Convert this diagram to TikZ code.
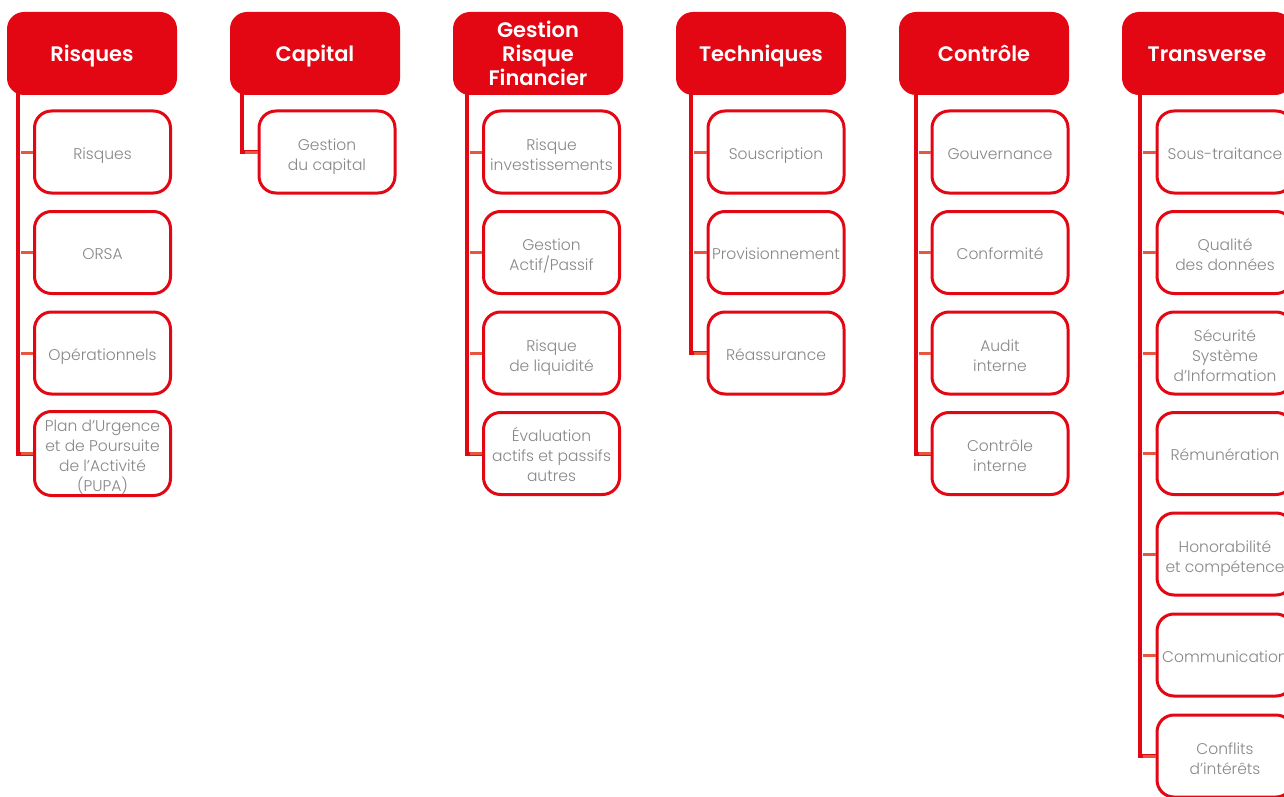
\documentclass[tikz,border=0pt]{standalone}
\usepackage{fontspec}
\setmainfont{Poppins}[UprightFont={* Light}, BoldFont={* SemiBold}]
\definecolor{brandred}{RGB}{227,6,19}
\definecolor{branchred}{RGB}{233,86,64}
\definecolor{itemgray}{RGB}{135,135,135}
% fixed height of the first line and depth of the last line in stacked labels
\newcommand\firstln{\rule{0pt}{20pt}}
\newcommand\lastln{\rule[-4pt]{0pt}{0pt}}
\tikzset{
  hdr/.style={fill=brandred, rounded corners=17pt, minimum width=170pt, minimum height=83pt,
    inner sep=0pt, align=center, text=white, font=\bfseries\fontsize{21}{24}\selectfont,
    text height=17pt, text depth=0pt},
  multiline/.style={text height={}, text depth={}},
  item/.style={draw=brandred, line width=3pt, fill=white, rounded corners=17pt,
    minimum width=136pt, minimum height=82pt, inner sep=0pt, align=center,
    text=itemgray, font=\fontsize{15.5}{20}\selectfont,
    text height=14pt, text depth=0pt},
  trunk/.style={draw=brandred, line width=4pt},
  branch/.style={draw=branchred, line width=3pt}
}
\begin{document}
\begin{tikzpicture}[x=1pt,y=-1pt]
\useasboundingbox (0,0) rectangle (1284,797);
\clip (0,0) rectangle (1284,797);

% column headers
\node[hdr] (hA) at (92,53.5) {Risques};
\node[hdr] (hB) at (315,53.5) {Capital};
\node[hdr,multiline] (hC) at (538,53.5) {Gestion\\Risque\\Financier};
\node[hdr] (hD) at (761,53.5) {Techniques};
\node[hdr] (hE) at (984,53.5) {Contrôle};
\node[hdr] (hF) at (1207,53.5) {Transverse};

% trunk anchor points under each header
\coordinate (tA) at (18,90);
\coordinate (tB) at (242,90);
\coordinate (tC) at (467,90);
\coordinate (tD) at (691,90);
\coordinate (tE) at (915.5,90);
\coordinate (tF) at (1140,90);

% Risques
\node[item] (a1) at (102.5,152) {Risques};
\node[item] (a2) at (102.5,252.5) {ORSA};
\node[item] (a3) at (102.5,353) {Opérationnels};
\node[item,multiline] (a4) at (102.5,453.5) {\firstln Plan d’Urgence\\et de Poursuite\\de l’Activité\\(PUPA)\lastln};

% Capital
\node[item,multiline] (b1) at (327,152) {\firstln Gestion\\du capital\lastln};

% Gestion Risque Financier
\node[item,multiline] (c1) at (551.5,152) {\firstln Risque\\investissements\lastln};
\node[item,multiline] (c2) at (551.5,252.5) {\firstln Gestion\\Actif/Passif\lastln};
\node[item,multiline] (c3) at (551.5,353) {\firstln Risque\\de liquidité\lastln};
\node[item,multiline] (c4) at (551.5,453.5) {\firstln Évaluation\\actifs et passifs\\autres\lastln};

% Techniques
\node[item] (d1) at (776,152) {Souscription};
\node[item] (d2) at (776,252.5) {Provisionnement};
\node[item] (d3) at (776,353) {Réassurance};

% Contrôle
\node[item] (e1) at (1000,152) {Gouvernance};
\node[item] (e2) at (1000,252.5) {Conformité};
\node[item,multiline] (e3) at (1000,353) {\firstln Audit\\interne\lastln};
\node[item,multiline] (e4) at (1000,453.5) {\firstln Contrôle\\interne\lastln};

% Transverse
\node[item] (f1) at (1225,152) {Sous-traitance};
\node[item,multiline] (f2) at (1225,252.5) {\firstln Qualité\\des données\lastln};
\node[item,multiline] (f3) at (1225,353) {\firstln Sécurité\\Système\\d’Information\lastln};
\node[item] (f4) at (1225,453.5) {Rémunération};
\node[item,multiline] (f5) at (1225,554) {\firstln Honorabilité\\et compétence\lastln};
\node[item] (f6) at (1225,655) {Communication};
\node[item,multiline] (f7) at (1225,756) {\firstln Conflits\\d’intérêts\lastln};

% trunks
\draw[trunk] (tA) |- (a4.west);
\draw[trunk] (tB) |- (b1.west);
\draw[trunk] (tC) |- (c4.west);
\draw[trunk] (tD) |- (d3.west);
\draw[trunk] (tE) |- (e4.west);
\draw[trunk] (tF) |- (f7.west);

% branches
\foreach \n/\t in {a1/tA,a2/tA,a3/tA,a4/tA,b1/tB,c1/tC,c2/tC,c3/tC,c4/tC,
                   d1/tD,d2/tD,d3/tD,e1/tE,e2/tE,e3/tE,e4/tE,
                   f1/tF,f2/tF,f3/tF,f4/tF,f5/tF,f6/tF,f7/tF}
  \draw[branch] ([xshift=3pt]\n.west -| \t) -- (\n.west);
\end{tikzpicture}
\end{document}
